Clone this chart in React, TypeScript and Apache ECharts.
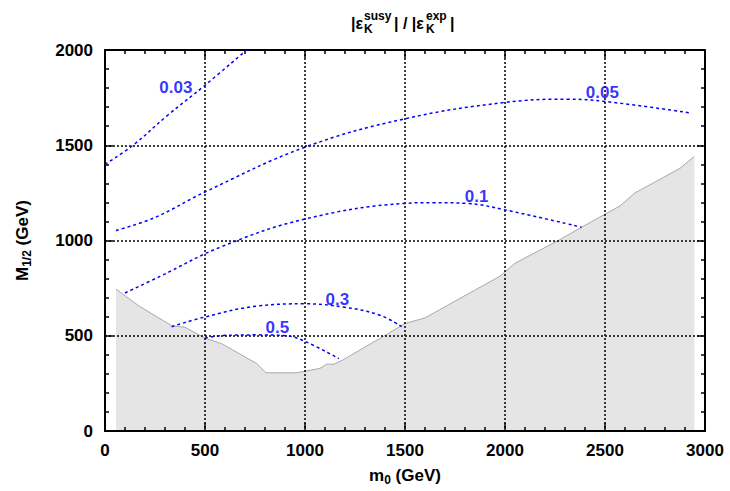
import { useEffect, useRef } from "react";
import * as echarts from "echarts";

// Excluded region boundary (m0, M1/2)
const boundaryM0 = [55, 171, 333, 400, 500, 583, 758, 805, 958, 1075, 1108, 1145, 1192, 1392, 1500, 1600, 1800, 1975, 2050, 2275, 2383, 2575, 2650, 2875, 2947];
const boundaryM12 = [745, 656, 553, 545, 488, 459, 355, 306, 306, 329, 351, 351, 375, 497, 565, 594, 711, 813, 881, 1005, 1070, 1182, 1250, 1379, 1442];

// Contours of |eps_K^susy| / |eps_K^exp|
const c003M0 = [0, 140, 308, 500, 708];
const c003M12 = [1400, 1500, 1653, 1815, 2000];
const c005M0 = [55, 250, 500, 1000, 1500, 2000, 2308, 2500, 2925];
const c005M12 = [1053, 1121, 1255, 1490, 1639, 1725, 1742, 1730, 1670];
const c01M0 = [100, 275, 583, 1000, 1500, 1642, 1808, 2000, 2383];
const c01M12 = [725, 812, 968, 1113, 1195, 1199, 1195, 1161, 1070];
const c03M0 = [333, 500, 758, 1000, 1192, 1375, 1483];
const c03M12 = [548, 599, 656, 668, 651, 608, 548];
const c05M0 = [500, 592, 758, 908, 1000, 1170];
const c05M12 = [488, 502, 505, 500, 471, 380];

// Contour labels
const contourLabels = ["0.03", "0.05", "0.1", "0.3", "0.5"];
const labelM0 = [354, 2487, 1858, 1162, 862];
const labelM12 = [1803, 1777, 1231, 690, 546];

const FONT = '"Liberation Sans", Arial, Helvetica, sans-serif';
const pairs = (xs: number[], ys: number[]) => xs.map((x, i) => [x, ys[i]]);

const contourSeries = (xs: number[], ys: number[]) => ({
  type: "line",
  data: pairs(xs, ys),
  symbol: "none",
  smooth: 0.4,
  lineStyle: { color: "#0000ff", width: 1.5, type: [3, 3] },
  z: 3,
  silent: true,
});

const axisCommon = {
  min: 0,
  splitNumber: 5,
  z: 2,
  axisLine: { show: true, onZero: false, lineStyle: { color: "#000", width: 2 } },
  axisTick: { show: true, inside: true, length: 8, lineStyle: { color: "#000", width: 1.5 } },
  minorTick: { show: true, splitNumber: 5, length: 4, lineStyle: { color: "#000", width: 1.5 } },
};

const labelStyle = { color: "#000", fontSize: 17, fontWeight: "bold", fontFamily: FONT };
const plain = (v: number) => String(v);

export default function App() {
  const ref = useRef<HTMLDivElement>(null);

  useEffect(() => {
    if (!ref.current) return;
    const chart = echarts.init(ref.current, null, { renderer: "svg" });

    const titleText = (text: string, x: number, y: number, size: number) => ({
      type: "text",
      x,
      y,
      style: {
        text,
        fill: "#000",
        fontSize: size,
        fontWeight: "bold",
        fontFamily: FONT,
        align: "left",
        verticalAlign: "middle",
      },
    });

    const nameStyle = {
      ...labelStyle,
      lineHeight: 22,
      rich: {
        sub: { fontSize: 12, fontWeight: "bold", fontFamily: FONT, lineHeight: 12, verticalAlign: "bottom" },
      },
    };

    chart.setOption({
      animation: false,
      backgroundColor: "#fff",
      grid: { left: 105, right: 25, top: 50, bottom: 53, containLabel: false },
      graphic: [
        titleText("|\u03b5", 351, 23, 16),
        titleText("susy", 364, 15.5, 12),
        titleText("K", 364, 28.5, 12),
        titleText("| / |\u03b5", 394, 23, 16),
        titleText("exp", 426, 15.5, 12),
        titleText("K", 426, 28.5, 12),
        titleText("|", 450, 23, 16),
      ],
      xAxis: [
        {
          ...axisCommon,
          type: "value",
          position: "bottom",
          max: 3000,
          interval: 500,
          name: "m{sub|0} (GeV)",
          nameLocation: "middle",
          nameGap: 32,
          nameTextStyle: nameStyle,
          axisLabel: { ...labelStyle, margin: 11, formatter: plain },
          splitLine: { show: true, lineStyle: { color: "#000", width: 1.5, type: [2, 2] } },
        },
        {
          ...axisCommon,
          type: "value",
          position: "top",
          max: 3000,
          interval: 500,
          axisLabel: { show: false },
          splitLine: { show: false },
        },
      ],
      yAxis: [
        {
          ...axisCommon,
          type: "value",
          position: "left",
          max: 2000,
          interval: 500,
          name: "M{sub|1/2} (GeV)",
          nameLocation: "middle",
          nameGap: 72,
          nameRotate: 90,
          nameTextStyle: nameStyle,
          axisLabel: { ...labelStyle, margin: 12, formatter: plain },
          splitLine: { show: true, lineStyle: { color: "#000", width: 1.5, type: [2, 2] } },
        },
        {
          ...axisCommon,
          type: "value",
          position: "right",
          max: 2000,
          interval: 500,
          axisLabel: { show: false },
          splitLine: { show: false },
        },
      ],
      series: [
        {
          type: "line",
          data: pairs(boundaryM0, boundaryM12),
          symbol: "none",
          lineStyle: { color: "#a8a8a8", width: 1 },
          areaStyle: { color: "#e5e5e5", opacity: 1 },
          z: 1,
          silent: true,
        },
        contourSeries(c003M0, c003M12),
        contourSeries(c005M0, c005M12),
        contourSeries(c01M0, c01M12),
        contourSeries(c03M0, c03M12),
        contourSeries(c05M0, c05M12),
        {
          type: "scatter",
          data: contourLabels.map((t, i) => [labelM0[i], labelM12[i], t]),
          symbolSize: 0,
          z: 4,
          silent: true,
          label: {
            show: true,
            position: "inside",
            formatter: (p: any) => p.value[2],
            color: "#0000ff",
            fontSize: 17,
            fontWeight: "bold",
            fontFamily: FONT,
          },
        },
      ],
    });

    return () => chart.dispose();
  }, []);

  return (
    <div
      ref={ref}
      style={{ position: "absolute", left: 0, top: 0, width: 730, height: 491 }}
    />
  );
}
